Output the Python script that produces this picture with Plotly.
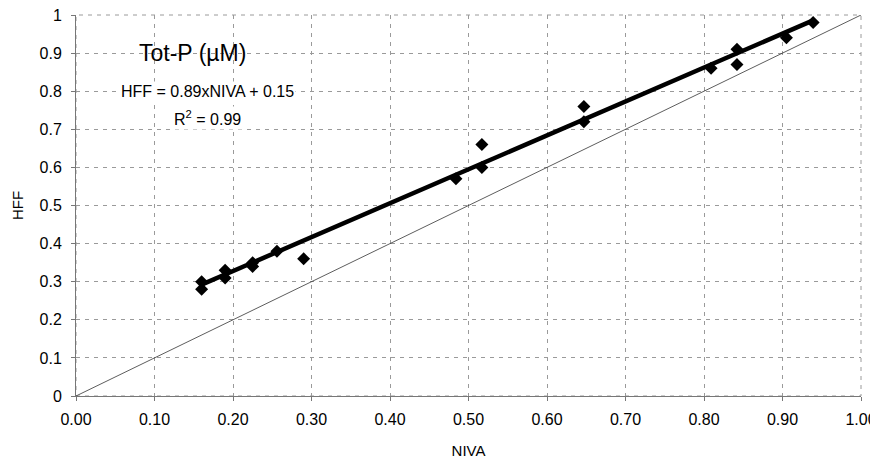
import plotly.graph_objects as go

niva = [0.16, 0.16, 0.19, 0.19, 0.225, 0.225, 0.256, 0.29, 0.484, 0.517, 0.517, 0.647, 0.647, 0.809, 0.842, 0.842, 0.905, 0.939]
hff = [0.30, 0.28, 0.33, 0.31, 0.35, 0.34, 0.38, 0.36, 0.57, 0.66, 0.60, 0.76, 0.72, 0.86, 0.91, 0.87, 0.94, 0.98]

slope = 0.89
intercept = 0.15
fit_x = [min(niva), max(niva)]
fit_y = [slope * v + intercept for v in fit_x]

one_to_one = [0.0, 1.0]

x_ticks = [i / 10 for i in range(11)]
y_ticks = [i / 10 for i in range(11)]
y_ticktext = ["0", "0.1", "0.2", "0.3", "0.4", "0.5", "0.6", "0.7", "0.8", "0.9", "1"]

FONT = "Liberation Sans, Arial, sans-serif"

fig = go.Figure()
fig.add_trace(go.Scatter(x=one_to_one, y=one_to_one, mode="lines",
                         line=dict(color="#333333", width=0.8), showlegend=False, hoverinfo="skip"))
fig.add_trace(go.Scatter(x=fit_x, y=fit_y, mode="lines",
                         line=dict(color="black", width=4.5), showlegend=False))
fig.add_trace(go.Scatter(x=niva, y=hff, mode="markers",
                         marker=dict(symbol="diamond", size=10, color="black"), showlegend=False))

fig.add_annotation(x=0.149, y=0.90, xref="x", yref="y", text="Tot-P (µM)", showarrow=False,
                   font=dict(family=FONT, size=23, color="black"))
fig.add_annotation(x=0.167, y=0.798, xref="x", yref="y", text="HFF = 0.89xNIVA + 0.15", showarrow=False,
                   font=dict(family=FONT, size=16, color="black"), bgcolor="white")
fig.add_annotation(x=0.167, y=0.73, xref="x", yref="y", text="R<sup>2</sup> = 0.99", showarrow=False,
                   font=dict(family=FONT, size=16, color="black"), bgcolor="white")

axis_common = dict(
    showgrid=True, gridcolor="#9a9a9a", griddash="4px,5px", gridwidth=1,
    showline=True, linecolor="#777777", linewidth=1, mirror=False,
    ticks="outside", ticklen=4, tickcolor="#777777", automargin=False,
    ticklabeloverflow="allow",
    zeroline=False, tickfont=dict(family=FONT, size=16, color="black"),
)

fig.update_xaxes(range=[0, 1], tickvals=x_ticks, tickformat=".2f", ticklabelstandoff=5,
                 title=dict(text="NIVA", font=dict(family=FONT, size=15, color="black"), standoff=20),
                 **axis_common)
fig.update_yaxes(range=[0, 1], tickvals=y_ticks, ticktext=y_ticktext, ticklabelstandoff=6,
                 title=dict(text="HFF", font=dict(family=FONT, size=15, color="black"), standoff=12),
                 **axis_common)

fig.add_shape(type="rect", xref="paper", yref="paper", x0=0, y0=0, x1=1, y1=1,
              line=dict(color="#9a9a9a", width=1, dash="4px,5px"), layer="below")

# page body has an 8px default margin, so the figure is sized to fit inside it
fig.update_layout(
    width=870, height=451,
    margin=dict(l=68, r=17, t=7, b=63),
    paper_bgcolor="white", plot_bgcolor="white",
    font=dict(family=FONT, color="black"),
)

fig.write_html("out.html")
